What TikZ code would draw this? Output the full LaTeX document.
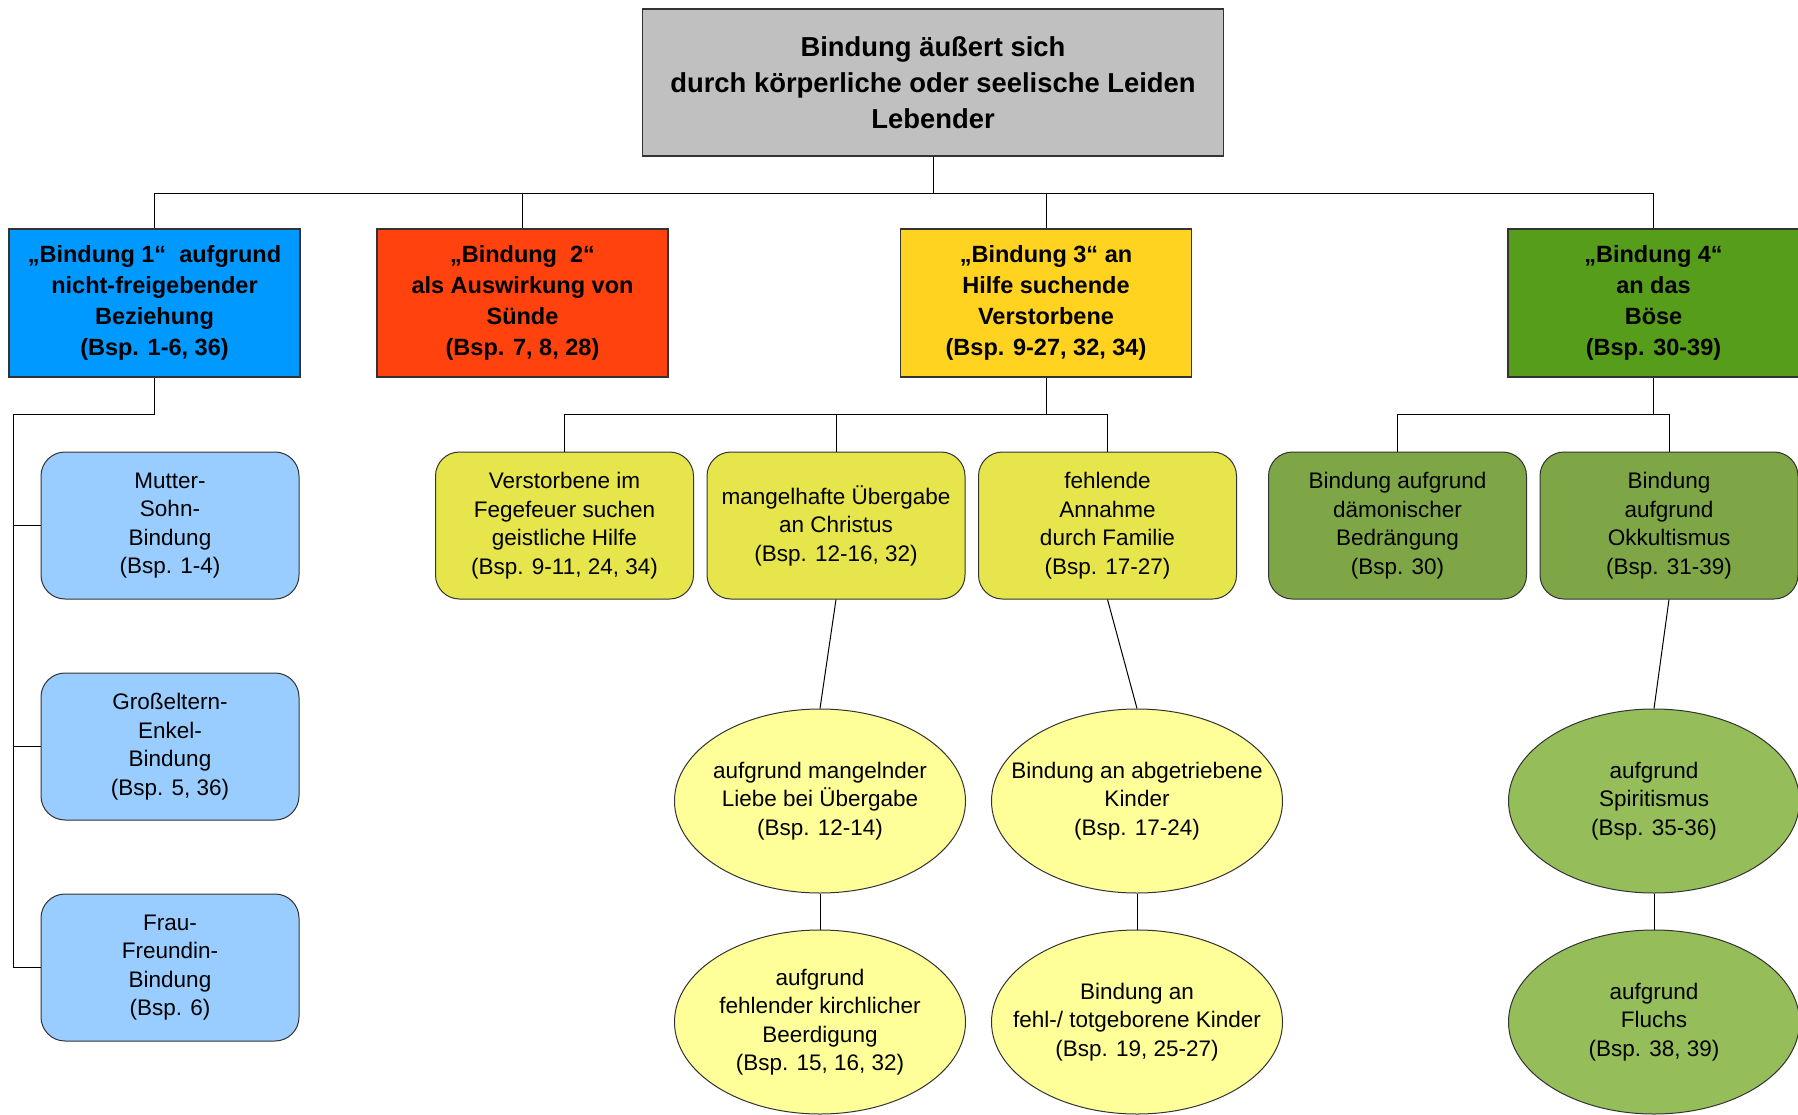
\documentclass[tikz,border=0pt]{standalone}
\usepackage{fontspec}
\setmainfont{Liberation Sans}
\usepackage{tikz}
\usetikzlibrary{shapes.geometric}

\definecolor{grau}{HTML}{C0C0C0}
\definecolor{blau}{HTML}{0099FF}
\definecolor{rot}{HTML}{FF420E}
\definecolor{gold}{HTML}{FFD320}
\definecolor{gruen}{HTML}{579D1C}
\definecolor{hellblau}{HTML}{99CCFF}
\definecolor{gelbgruen}{HTML}{E6E64C}
\definecolor{olivgruen}{HTML}{7EA646}
\definecolor{hellgelb}{HTML}{FFFF99}
\definecolor{maigruen}{HTML}{95BE5B}
\definecolor{rand}{HTML}{333333}

\begin{document}
\begin{tikzpicture}[x=1pt,y=-1pt,
    kopf/.style={draw=rand,line width=1.2pt,minimum width=581pt,minimum height=147pt,inner sep=0pt,align=center,font=\fontsize{27.4}{36}\selectfont\bfseries},
    haupt/.style={draw=rand,line width=1.2pt,minimum width=291pt,minimum height=148pt,inner sep=0pt,align=center,font=\fontsize{23.5}{31}\selectfont\bfseries},
    unter/.style={draw=rand,line width=1pt,rounded corners=24pt,minimum width=258pt,minimum height=147pt,inner sep=0pt,align=center,font=\fontsize{22.5}{28.5}\selectfont},
    folge/.style={ellipse,draw=rand,line width=1pt,minimum width=291pt,minimum height=184pt,inner ysep=0pt,inner xsep=-45pt,align=center,font=\fontsize{22.5}{28.5}\selectfont},
    linie/.style={draw=black,line width=1pt}]
      \useasboundingbox (0,0) rectangle (1798,1115);
      \fill [white] (0,0) rectangle (1798,1115);

      % Kopf
      \node [kopf,fill=grau] (kopf) at (933,82.5) {Bindung äußert sich\\durch körperliche oder seelische Leiden\\Lebender};

      % Ebene 1
      \node [haupt,fill=blau] (bind1) at (154.5,303) {„Bindung 1“~ aufgrund\\nicht-freigebender\\Beziehung\\(Bsp. 1-6, 36)};
      \node [haupt,fill=rot] (bind2) at (522.5,303) {„Bindung~ 2“\\als Auswirkung von\\Sünde\\(Bsp. 7, 8, 28)};
      \node [haupt,fill=gold] (bind3) at (1046,303) {„Bindung 3“ an\\Hilfe suchende\\Verstorbene\\(Bsp. 9-27, 32, 34)};
      \node [haupt,fill=gruen] (bind4) at (1653.5,303) {„Bindung 4“\\an das\\Böse\\(Bsp. 30-39)};

      \draw [linie] (kopf.south) -- ++(0,37) -| (bind1.north);
      \draw [linie] (kopf.south) -- ++(0,37) -| (bind2.north);
      \draw [linie] (kopf.south) -- ++(0,37) -| (bind3.north);
      \draw [linie] (kopf.south) -- ++(0,37) -| (bind4.north);

      % Bindung 1
      \node [unter,fill=hellblau] (mutter) at (170,525.5) {Mutter-\\Sohn-\\Bindung\\(Bsp. 1-4)};
      \node [unter,fill=hellblau] (enkel) at (170,746.5) {Großeltern-\\Enkel-\\Bindung\\(Bsp. 5, 36)};
      \node [unter,fill=hellblau] (frau) at (170,967.5) {Frau-\\Freundin-\\Bindung\\(Bsp. 6)};

      \draw [linie] (bind1.south) -- ++(0,37) -| ([xshift=-27pt]frau.west) -- (frau.west);
      \draw [linie] ([xshift=-27pt]mutter.west) -- (mutter.west);
      \draw [linie] ([xshift=-27pt]enkel.west) -- (enkel.west);

      % Bindung 3
      \node [unter,fill=gelbgruen] (fegefeuer) at (564.5,525.5) {Verstorbene im\\Fegefeuer suchen\\geistliche Hilfe\\(Bsp. 9-11, 24, 34)};
      \node [unter,fill=gelbgruen] (uebergabe) at (836,525.5) {mangelhafte Übergabe\\an Christus\\(Bsp. 12-16, 32)};
      \node [unter,fill=gelbgruen] (familie) at (1107.5,525.5) {fehlende\\Annahme\\durch Familie\\(Bsp. 17-27)};

      \draw [linie] (bind3.south) -- ++(0,37) -| (fegefeuer.north);
      \draw [linie] (bind3.south) -- ++(0,37) -| (uebergabe.north);
      \draw [linie] (bind3.south) -- ++(0,37) -| (familie.north);

      \node [folge,fill=hellgelb] (liebe) at (820,801) {aufgrund mangelnder\\Liebe bei Übergabe\\(Bsp. 12-14)};
      \node [folge,fill=hellgelb] (beerdigung) at (820,1022) {aufgrund\\fehlender kirchlicher\\Beerdigung\\(Bsp. 15, 16, 32)};
      \node [folge,fill=hellgelb] (abgetrieben) at (1137,801) {Bindung an abgetriebene\\Kinder\\(Bsp. 17-24)};
      \node [folge,fill=hellgelb] (totgeboren) at (1137,1022) {Bindung an\\fehl-/ totgeborene Kinder\\(Bsp. 19, 25-27)};

      \draw [linie] (uebergabe.south) -- (liebe.north);
      \draw [linie] (liebe.south) -- (beerdigung.north);
      \draw [linie] (familie.south) -- (abgetrieben.north);
      \draw [linie] (abgetrieben.south) -- (totgeboren.north);

      % Bindung 4
      \node [unter,fill=olivgruen] (daemon) at (1397.5,525.5) {Bindung aufgrund\\dämonischer\\Bedrängung\\(Bsp. 30)};
      \node [unter,fill=olivgruen] (okkult) at (1669,525.5) {Bindung\\aufgrund\\Okkultismus\\(Bsp. 31-39)};

      \draw [linie] (bind4.south) -- ++(0,37) -| (daemon.north);
      \draw [linie] (bind4.south) -- ++(0,37) -| (okkult.north);

      \node [folge,fill=maigruen] (spiritismus) at (1654,801) {aufgrund\\Spiritismus\\(Bsp. 35-36)};
      \node [folge,fill=maigruen] (fluch) at (1654,1022) {aufgrund\\Fluchs\\(Bsp. 38, 39)};

      \draw [linie] (okkult.south) -- (spiritismus.north);
      \draw [linie] (spiritismus.south) -- (fluch.north);
    \end{tikzpicture}
\end{document}
